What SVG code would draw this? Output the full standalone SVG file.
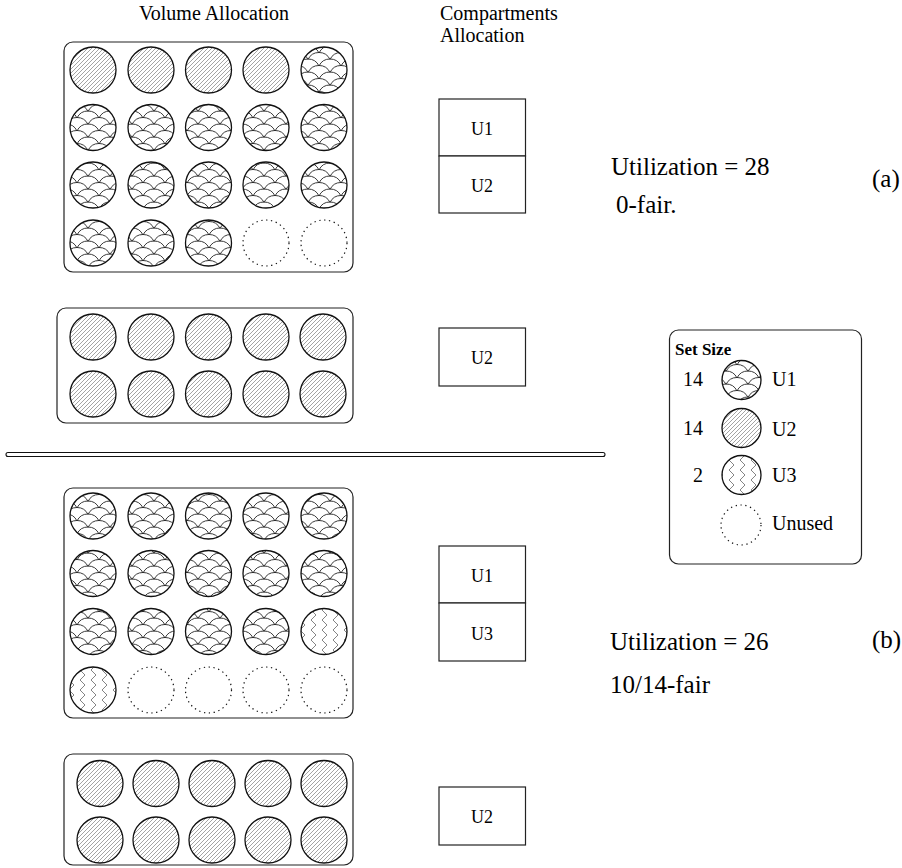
<svg xmlns="http://www.w3.org/2000/svg" width="902" height="868" viewBox="0 0 902 868">
<style>
text{font-family:"Liberation Serif","Times New Roman",serif;fill:#000}
.hdr{font-size:20px}
.cl{font-size:18px;text-anchor:middle}
.big{font-size:25px}
.lg{font-size:20px}
.frame{fill:none;stroke:#222;stroke-width:1.2}
.cbox{fill:#fff;stroke:#222;stroke-width:1.2}
circle{stroke:#111;stroke-width:1.3}
.u1{fill:url(#scales)}
.u2{fill:url(#hatch)}
.u3{fill:url(#zig)}
.un{fill:#fff;stroke-dasharray:1.3 3.6;stroke-width:1.2}
</style>
<defs>
<pattern id="hatch" patternUnits="userSpaceOnUse" width="4" height="4">
<rect width="4" height="4" fill="#fff"/>
<path d="M0,4 L4,0 M-1,1 L1,-1 M3,5 L5,3" stroke="#666" stroke-width="0.6"/>
</pattern>
<pattern id="scales" patternUnits="userSpaceOnUse" width="22" height="13">
<rect width="22" height="13" fill="#fff"/>
<path d="M0,7.5 A12.14,12.14 0 0 1 22,7.5 M-11,14 A12.14,12.14 0 0 1 11,14 M11,14 A12.14,12.14 0 0 1 33,14 M-11,1 A12.14,12.14 0 0 1 11,1 M11,1 A12.14,12.14 0 0 1 33,1" fill="none" stroke="#222" stroke-width="0.9"/>
</pattern>
<pattern id="zig" patternUnits="userSpaceOnUse" width="11" height="10">
<rect width="11" height="10" fill="#fff"/>
<path d="M3,0 L8,5 L3,10" fill="none" stroke="#777" stroke-width="0.9"/>
</pattern>
</defs>

<g id="headers">
<text class="hdr" x="214" y="20" text-anchor="middle">Volume Allocation</text>
<text class="hdr" x="440" y="20">Compartments</text>
<text class="hdr" x="440" y="42">Allocation</text>
</g>

<g id="volume-a1">
<rect class="frame" x="64" y="42" width="289" height="230" rx="9"/>
<circle class="u2" cx="93" cy="70" r="23"/>
<circle class="u2" cx="151" cy="70" r="23"/>
<circle class="u2" cx="208.5" cy="70" r="23"/>
<circle class="u2" cx="266" cy="70" r="23"/>
<circle class="u1" cx="324" cy="70" r="23"/>
<circle class="u1" cx="93" cy="127.5" r="23"/>
<circle class="u1" cx="151" cy="127.5" r="23"/>
<circle class="u1" cx="208.5" cy="127.5" r="23"/>
<circle class="u1" cx="266" cy="127.5" r="23"/>
<circle class="u1" cx="324" cy="127.5" r="23"/>
<circle class="u1" cx="93" cy="185" r="23"/>
<circle class="u1" cx="151" cy="185" r="23"/>
<circle class="u1" cx="208.5" cy="185" r="23"/>
<circle class="u1" cx="266" cy="185" r="23"/>
<circle class="u1" cx="324" cy="185" r="23"/>
<circle class="u1" cx="93" cy="243" r="23"/>
<circle class="u1" cx="151" cy="243" r="23"/>
<circle class="u1" cx="208.5" cy="243" r="23"/>
<circle class="un" cx="266" cy="243" r="23"/>
<circle class="un" cx="324" cy="243" r="23"/>
</g>

<g id="volume-a2">
<rect class="frame" x="57" y="308" width="296" height="115" rx="9"/>
<circle class="u2" cx="93" cy="337" r="23"/>
<circle class="u2" cx="151" cy="337" r="23"/>
<circle class="u2" cx="208.5" cy="337" r="23"/>
<circle class="u2" cx="266" cy="337" r="23"/>
<circle class="u2" cx="323" cy="337" r="23"/>
<circle class="u2" cx="93" cy="394" r="23"/>
<circle class="u2" cx="151" cy="394" r="23"/>
<circle class="u2" cx="208.5" cy="394" r="23"/>
<circle class="u2" cx="266" cy="394" r="23"/>
<circle class="u2" cx="323" cy="394" r="23"/>
</g>

<g id="compart-a1">
<rect class="cbox" x="439" y="99" width="86.5" height="57"/>
<rect class="cbox" x="439" y="156" width="86.5" height="57"/>
<text class="cl" x="482" y="135">U1</text>
<text class="cl" x="482" y="192">U2</text>
</g>

<g id="compart-a2">
<rect class="cbox" x="439" y="328" width="86.5" height="58"/>
<text class="cl" x="482" y="364">U2</text>
</g>

<g id="label-a">
<text class="big" x="611" y="175">Utilization = 28</text>
<text class="big" x="616" y="213">0-fair.</text>
<text class="big" x="872" y="187">(a)</text>
</g>

<g id="separator">
<rect x="6" y="452.5" width="599" height="4" rx="2" fill="#fff" stroke="#111" stroke-width="1.1"/>
</g>

<g id="legend">
<rect class="frame" x="669.5" y="330" width="192" height="234" rx="9"/>
<text x="675" y="355" font-size="17" font-weight="bold">Set Size</text>
<text class="lg" x="683" y="386">14</text>
<circle class="u1" cx="741.5" cy="380" r="19.5"/>
<text class="lg" x="772" y="386">U1</text>
<text class="lg" x="683" y="435">14</text>
<circle class="u2" cx="741.5" cy="428" r="19.5"/>
<text class="lg" x="772" y="436">U2</text>
<text class="lg" x="693" y="482">2</text>
<circle class="u3" cx="741.5" cy="475" r="19.5"/>
<text class="lg" x="772" y="482">U3</text>
<circle class="un" cx="741" cy="525" r="20"/>
<text class="lg" x="772" y="530">Unused</text>
</g>

<g id="volume-b1">
<rect class="frame" x="64" y="488" width="289" height="230" rx="9"/>
<circle class="u1" cx="93" cy="516" r="23"/>
<circle class="u1" cx="151" cy="516" r="23"/>
<circle class="u1" cx="208.5" cy="516" r="23"/>
<circle class="u1" cx="266" cy="516" r="23"/>
<circle class="u1" cx="324" cy="516" r="23"/>
<circle class="u1" cx="93" cy="573.5" r="23"/>
<circle class="u1" cx="151" cy="573.5" r="23"/>
<circle class="u1" cx="208.5" cy="573.5" r="23"/>
<circle class="u1" cx="266" cy="573.5" r="23"/>
<circle class="u1" cx="324" cy="573.5" r="23"/>
<circle class="u1" cx="93" cy="631.5" r="23"/>
<circle class="u1" cx="151" cy="631.5" r="23"/>
<circle class="u1" cx="208.5" cy="631.5" r="23"/>
<circle class="u1" cx="266" cy="631.5" r="23"/>
<circle class="u3" cx="324" cy="631.5" r="23"/>
<circle class="u3" cx="93" cy="690" r="23"/>
<circle class="un" cx="151" cy="690" r="23"/>
<circle class="un" cx="208.5" cy="690" r="23"/>
<circle class="un" cx="266" cy="690" r="23"/>
<circle class="un" cx="324" cy="690" r="23"/>
</g>

<g id="volume-b2">
<rect class="frame" x="64" y="754" width="289" height="111" rx="9"/>
<circle class="u2" cx="100" cy="783.5" r="23"/>
<circle class="u2" cx="156" cy="783.5" r="23"/>
<circle class="u2" cx="212" cy="783.5" r="23"/>
<circle class="u2" cx="268" cy="783.5" r="23"/>
<circle class="u2" cx="324" cy="783.5" r="23"/>
<circle class="u2" cx="100" cy="840" r="23"/>
<circle class="u2" cx="156" cy="840" r="23"/>
<circle class="u2" cx="212" cy="840" r="23"/>
<circle class="u2" cx="268" cy="840" r="23"/>
<circle class="u2" cx="324" cy="840" r="23"/>
</g>

<g id="compart-b1">
<rect class="cbox" x="439" y="546" width="86.5" height="57"/>
<rect class="cbox" x="439" y="603" width="86.5" height="58"/>
<text class="cl" x="482" y="582">U1</text>
<text class="cl" x="482" y="640">U3</text>
</g>

<g id="compart-b2">
<rect class="cbox" x="439" y="787" width="86.5" height="58"/>
<text class="cl" x="482" y="823">U2</text>
</g>

<g id="label-b">
<text class="big" x="610" y="650">Utilization = 26</text>
<text class="big" x="610" y="693">10/14-fair</text>
<text class="big" x="872" y="648">(b)</text>
</g>
</svg>
